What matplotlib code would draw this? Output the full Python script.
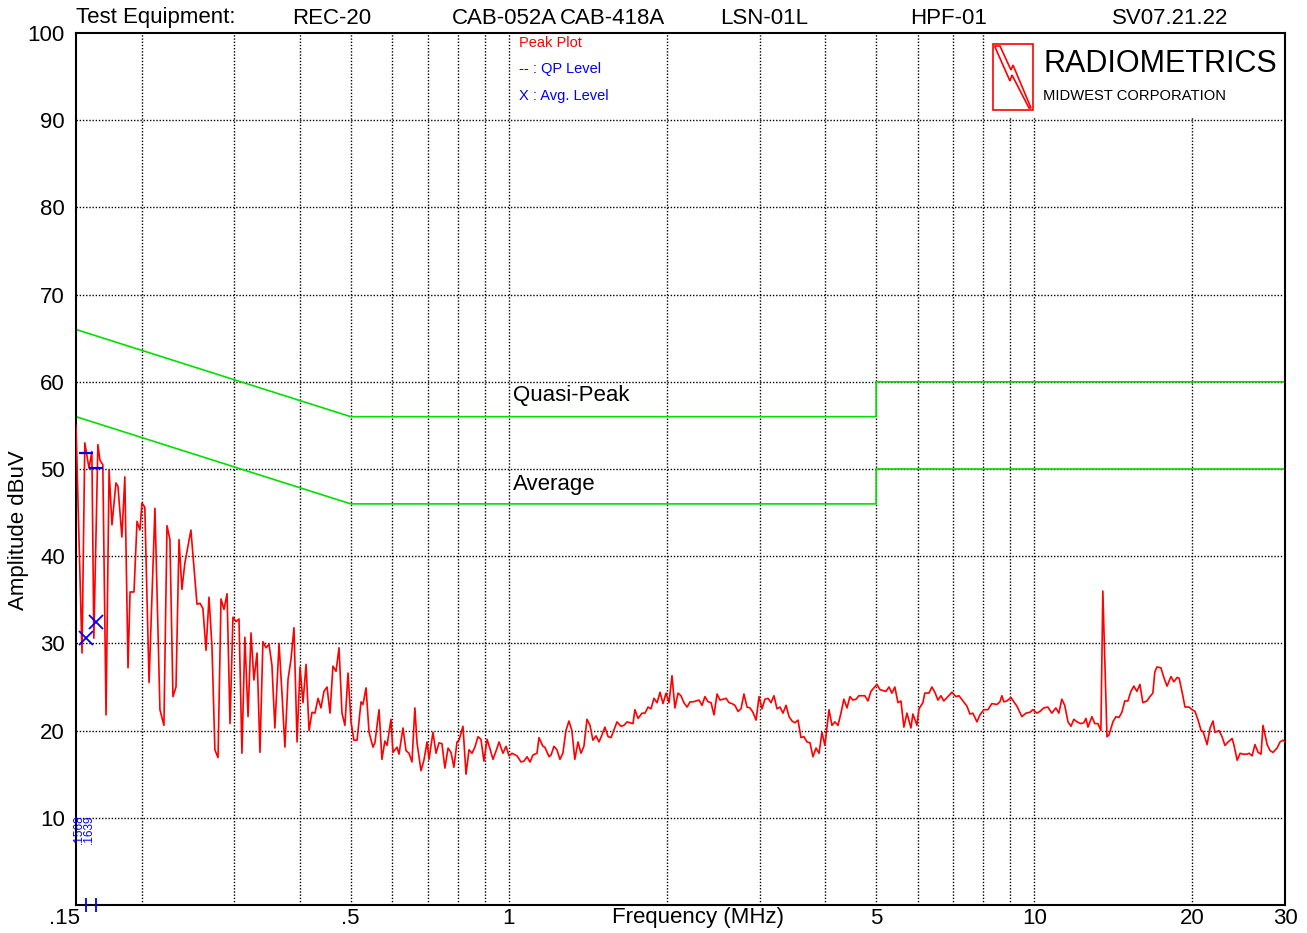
import matplotlib
matplotlib.use("Agg")
import matplotlib.pyplot as plt
from matplotlib.patches import Rectangle, Polygon
from matplotlib.transforms import ScaledTranslation

plt.rcParams['font.family'] = ['Liberation Sans', 'DejaVu Sans']

# peak scan (MHz, dBuV)
freq_mhz = [
    0.1500, 0.1540, 0.1559, 0.1588, 0.1608, 0.1622, 0.1651, 0.1666, 0.1687, 0.1711,
    0.1734, 0.1756, 0.1787, 0.1803, 0.1834, 0.1858, 0.1884, 0.1901, 0.1934, 0.1960,
    0.1985, 0.2003, 0.2028, 0.2066, 0.2120, 0.2167, 0.2205, 0.2235, 0.2264, 0.2294,
    0.2325, 0.2356, 0.2386, 0.2417, 0.2482, 0.2549, 0.2583, 0.2616, 0.2652, 0.2687,
    0.2722, 0.2757, 0.2795, 0.2832, 0.2869, 0.2908, 0.2946, 0.2984, 0.3024, 0.3064,
    0.3104, 0.3144, 0.3188, 0.3230, 0.3271, 0.3316, 0.3359, 0.3403, 0.3449, 0.3495,
    0.3540, 0.3586, 0.3652, 0.3699, 0.3747, 0.3799, 0.3849, 0.3899, 0.3952, 0.4004,
    0.4056, 0.4111, 0.4165, 0.4220, 0.4274, 0.4333, 0.4389, 0.4446, 0.4507, 0.4566,
    0.4625, 0.4688, 0.4750, 0.4812, 0.4874, 0.4941, 0.5006, 0.5070, 0.5141, 0.5231,
    0.5276, 0.5347, 0.5418, 0.5512, 0.5559, 0.5660, 0.5733, 0.5807, 0.5863, 0.5965,
    0.6017, 0.6125, 0.6178, 0.6286, 0.6371, 0.6455, 0.6539, 0.6623, 0.6686, 0.6803,
    0.6891, 0.6986, 0.7047, 0.7169, 0.7266, 0.7362, 0.7458, 0.7554, 0.7659, 0.7759,
    0.7859, 0.7967, 0.8037, 0.8176, 0.8287, 0.8396, 0.8506, 0.8615, 0.8734, 0.8848,
    0.8963, 0.9088, 0.9207, 0.9327, 0.9495, 0.9578, 0.9744, 0.9876, 1.0006, 1.0137,
    1.0365, 1.0547, 1.0683, 1.0827, 1.0970, 1.1112, 1.1310, 1.1409, 1.1607, 1.1706,
    1.1925, 1.2029, 1.2184, 1.2344, 1.2506, 1.2669, 1.284, 1.3009, 1.3179, 1.3348,
    1.3538, 1.3715, 1.3892, 1.4082, 1.4267, 1.4452, 1.465, 1.4843, 1.5037, 1.5230,
    1.5445, 1.5647, 1.5849, 1.6060, 1.6342, 1.6553, 1.6784, 1.7004, 1.7225, 1.7372,
    1.7614, 1.7921, 1.8152, 1.8401, 1.8641, 1.8882, 1.9144, 1.9395, 1.9647, 1.991,
    2.0173, 2.0436, 2.0698, 2.0983, 2.1258, 2.1532, 2.1836, 2.2123, 2.2410, 2.271,
    2.3010, 2.3310, 2.3609, 2.3939, 2.4252, 2.4565, 2.4899, 2.5226, 2.5554, 2.590,
    2.6242, 2.6584, 2.6926, 2.7298, 2.7655, 2.8013, 2.8394, 2.8768, 2.9141, 2.954,
    2.9930, 3.0320, 3.0710, 3.1132, 3.1539, 3.1946, 3.2382, 3.2807, 3.3233, 3.369,
    3.4135, 3.4579, 3.5024, 3.5500, 3.5964, 3.6429, 3.6932, 3.7417, 3.7903, 3.842,
    3.8927, 3.9434, 3.9941, 4.0670, 4.1200, 4.1730, 4.2299, 4.2852, 4.3406, 4.4003,
    4.4581, 4.5159, 4.577, 4.6374, 4.6978, 4.7583, 4.8241, 4.8872, 4.9503, 5.0180,
    5.0839, 5.1499, 5.220, 5.2889, 5.3578, 5.4267, 5.5020, 5.5740, 5.6460, 5.7231,
    5.8234, 5.8735, 5.9792, 6.0316, 6.1364, 6.1887, 6.3021, 6.3842, 6.4663, 6.5552,
    6.6410, 6.7267, 6.8487, 6.9682, 7.094, 7.1876, 7.3125, 7.4436, 7.5414, 7.6393,
    7.7771, 7.8793, 8.0155, 8.1612, 8.3036, 8.4892, 8.6008, 8.6751, 8.7495, 8.8699,
    9.0253, 9.1418, 9.2666, 9.4696, 9.640, 9.8097, 9.9369, 10.114, 10.247, 10.424,
    10.613, 10.798, 10.99, 11.135, 11.280, 11.425, 11.591, 11.743, 11.894, 12.053,
    12.264, 12.422, 12.54, 12.650, 12.871, 13.037, 13.215, 13.388, 13.503, 13.750,
    13.871, 14.112, 14.30, 14.489, 14.678, 14.866, 15.071, 15.269, 15.466, 15.679,
    15.885, 16.091, 16.382, 16.597, 16.812, 16.956, 17.115, 17.415, 17.640, 17.888,
    18.202, 18.437, 18.702, 18.866, 19.112, 19.357, 19.707, 19.963, 20.220, 20.499,
    20.767, 20.946, 21.323, 21.604, 21.884, 22.071, 22.473, 22.766, 23.058, 23.384,
    23.792, 23.996, 24.327, 24.646, 24.966, 25.411, 25.634, 25.968, 26.302, 26.663,
    27.011, 27.244, 27.742, 28.106, 28.471, 28.977, 29.358, 29.739, 30.0]

peak_dbuv = [
    55.0, 28.9, 53.0, 50.1, 52.0, 30.6, 52.8, 51.0, 50.5, 21.8,
    49.9, 43.6, 48.4, 48.0, 42.2, 49.1, 27.2, 35.9, 35.9, 44.0,
    43.0, 46.1, 45.6, 25.5, 45.5, 22.4, 20.6, 43.5, 41.9, 23.9,
    25.0, 41.9, 36.2, 39.2, 43.0, 34.5, 34.6, 34.0, 29.2, 35.3,
    29.6, 17.8, 16.9, 35.1, 33.9, 35.7, 20.8, 33.0, 32.5, 32.8,
    17.4, 30.7, 21.6, 31.2, 25.8, 28.9, 17.5, 30.2, 29.5, 29.9,
    27.5, 20.3, 30.0, 24.3, 18.1, 25.9, 28.2, 31.8, 18.7, 27.3,
    23.2, 27.6, 20.0, 22.1, 22.0, 23.7, 22.6, 24.5, 25.0, 22.0,
    27.4, 26.8, 29.5, 22.0, 20.6, 26.6, 21.0, 18.9, 18.9, 23.3,
    23.0, 24.9, 19.8, 18.1, 18.6, 22.4, 16.7, 18.8, 18.3, 21.3,
    17.5, 18.1, 17.3, 20.3, 17.7, 17.4, 16.4, 22.6, 18.6, 15.4,
    16.6, 18.7, 16.7, 19.8, 17.4, 18.6, 18.5, 15.7, 18.0, 17.5,
    15.8, 18.7, 18.9, 20.5, 15.0, 17.8, 17.4, 18.1, 19.3, 19.0,
    16.5, 19.0, 17.9, 16.7, 18.0, 18.7, 17.4, 18.2, 17.1, 17.4,
    17.1, 16.4, 16.5, 17.0, 16.4, 17.2, 17.4, 19.2, 18.2, 18.1,
    17.0, 17.2, 18.2, 17.8, 16.7, 17.4, 20.0, 21.1, 20.0, 16.7,
    18.7, 17.4, 18.2, 21.3, 20.6, 18.9, 19.4, 18.7, 19.5, 20.4,
    19.3, 19.2, 20.1, 21.0, 20.5, 20.6, 21.0, 20.9, 20.8, 22.4,
    21.4, 22.0, 22.0, 22.7, 22.5, 23.7, 23.2, 24.4, 23.1, 24.3,
    23.2, 26.3, 22.6, 24.3, 24.0, 23.2, 22.7, 23.3, 23.3, 23.4,
    23.5, 22.9, 23.9, 23.3, 23.2, 21.8, 24.2, 23.5, 23.6, 23.7,
    23.2, 23.1, 22.9, 22.2, 22.5, 24.2, 22.7, 22.6, 22.1, 21.2,
    23.9, 22.5, 23.6, 23.7, 23.2, 24.0, 22.5, 22.7, 22.0, 22.9,
    21.6, 21.1, 20.9, 21.2, 19.2, 19.3, 18.7, 18.6, 17.0, 18.0,
    17.4, 19.8, 18.3, 22.4, 20.6, 21.0, 20.6, 22.0, 23.6, 22.6,
    23.9, 23.5, 23.6, 24.0, 24.0, 24.0, 23.4, 24.5, 24.9, 25.3,
    24.7, 24.6, 24.5, 25.0, 24.3, 25.0, 23.2, 23.4, 20.4, 22.0,
    20.3, 21.9, 20.6, 22.5, 23.2, 24.3, 24.3, 25.0, 24.4, 23.5,
    24.0, 23.4, 23.9, 24.4, 23.9, 24.0, 23.4, 22.8, 21.9, 22.0,
    21.0, 21.8, 22.4, 22.4, 23.1, 23.0, 23.3, 24.0, 23.3, 23.4,
    23.8, 23.3, 22.8, 21.6, 22.0, 22.1, 22.4, 22.0, 22.2, 22.6,
    22.7, 22.0, 22.6, 22.0, 23.6, 22.9, 21.0, 20.5, 21.3, 21.0,
    20.8, 20.9, 21.4, 20.4, 21.6, 20.8, 20.8, 20.0, 36.0, 19.3,
    19.5, 21.0, 21.6, 21.5, 22.1, 23.4, 23.4, 24.5, 25.1, 24.5,
    25.3, 23.2, 23.4, 23.9, 24.3, 26.7, 27.3, 27.2, 26.1, 25.1,
    26.2, 25.6, 26.1, 26.0, 24.4, 22.7, 22.7, 22.4, 22.2, 21.2,
    20.0, 19.9, 18.4, 20.3, 21.1, 19.8, 20.0, 19.3, 18.3, 18.7,
    19.1, 18.3, 16.6, 17.4, 17.3, 17.3, 17.4, 17.1, 18.4, 17.5,
    17.3, 20.6, 18.4, 17.7, 17.5, 18.0, 18.7, 18.9, 18.7]

# limit lines
limit_freq = [0.15, 0.5, 5, 5, 30]
qp_limit = [66, 56, 56, 60, 60]
avg_limit = [56, 46, 46, 50, 50]

# measured QP / average points
marker_freq = [0.1568, 0.1639]
marker_labels = ['.1568', '.1639']
qp_level = [51.8, 50.1]
avg_level = [30.6, 32.4]

header = ['Test Equipment:', 'REC-20', 'CAB-052A', 'CAB-418A', 'LSN-01L', 'HPF-01', 'SV07.21.22']
header_px = [76, 292, 452, 560, 720, 910, 1112]

grid_freqs = [0.2, 0.3, 0.4, 0.5, 0.6, 0.7, 0.8, 0.9, 1, 2, 3, 4, 5, 6, 7, 8, 9, 10, 20]
xtick_vals = [0.15, 0.5, 1, 5, 10, 20, 30]
xtick_text = ['.15', '.5', '1', '5', '10', '20', '30']

W, H = 1307, 933
L, R, T, B = 76, 1285, 33, 905
FS = 16
RED = '#ff0000'
GREEN = '#00e000'
BLUE = '#0000ff'


def axfrac(px, py):
    return ((px - L) / (R - L), (B - py) / (B - T))


fig = plt.figure(figsize=(W / 100, H / 100), dpi=100)
ax = fig.add_axes([L / W, 1 - B / H, (R - L) / W, (B - T) / H])
ax.set_xscale('log')
ax.set_xlim(0.15, 30)
ax.set_ylim(0, 100)

# grid
for f in grid_freqs:
    ax.axvline(f, color='black', lw=1.0, ls=(0, (1, 1.3)), zorder=0.5)
for y in range(10, 100, 10):
    ax.axhline(y, color='black', lw=1.0, ls=(0, (1, 1.3)), zorder=0.5)

ax.set_xticks(xtick_vals)
ax.set_xticklabels(xtick_text)
ax.xaxis.set_minor_locator(matplotlib.ticker.NullLocator())
ax.set_yticks(range(10, 101, 10))
ax.tick_params(length=0, labelsize=FS)
ax.tick_params(axis='y', pad=8)
ax.tick_params(axis='x', pad=2)
first = ax.get_xticklabels()[0]
first.set_ha('right')
first.set_transform(first.get_transform() + ScaledTranslation(0.04, 0, fig.dpi_scale_trans))
for s in ax.spines.values():
    s.set_linewidth(1.5)
    s.set_color('black')

# limits
ax.plot(limit_freq, qp_limit, color=GREEN, lw=1.2, zorder=2)
ax.plot(limit_freq, avg_limit, color=GREEN, lw=1.2, zorder=2)
ax.text(1.018, 58.4, 'Quasi-Peak', fontsize=FS, va='center', ha='left')
ax.text(1.018, 48.2, 'Average', fontsize=FS, va='center', ha='left')

# peak trace
ax.plot(freq_mhz, peak_dbuv, color=RED, lw=1.2, zorder=3)

# markers
ax.plot(marker_freq, qp_level, ls='none', marker='_', ms=9.5, mew=1.6, color=BLUE, zorder=4)
ax.plot(marker_freq, avg_level, ls='none', marker='x', ms=9.5, mew=1.3, color=BLUE, zorder=4)
ax.plot(marker_freq, [0, 0], ls='none', marker='|', ms=10, mew=1.3, color=BLUE,
        zorder=5, clip_on=False)
for f, lab in zip(marker_freq, marker_labels):
    ax.text(f * 0.995, 7.0, lab, rotation=90, fontsize=8.5, color=BLUE,
            ha='right', va='bottom')

# legend text
lx = axfrac(519, 0)[0]
ax.text(lx, axfrac(0, 43)[1], 'Peak Plot', transform=ax.transAxes, fontsize=10.5, color=RED, va='center')
ax.text(lx, axfrac(0, 69)[1], '-- : QP Level', transform=ax.transAxes, fontsize=10.5, color=BLUE, va='center')
ax.text(lx, axfrac(0, 96)[1], 'X : Avg. Level', transform=ax.transAxes, fontsize=10.5, color=BLUE, va='center')

# logo block
x0, y0 = axfrac(986, 118)
ax.add_patch(Rectangle((x0, y0), 1 - x0, 1 - y0, transform=ax.transAxes,
                       facecolor='white', edgecolor='none', zorder=1))
rx0, ry0 = axfrac(993, 110)
rx1, ry1 = axfrac(1033, 44)
ax.add_patch(Rectangle((rx0, ry0), rx1 - rx0, ry1 - ry0, transform=ax.transAxes,
                       facecolor='none', edgecolor=RED, lw=1.2, zorder=6))
bolt_px = [(995, 46), (1000, 46), (1011, 70), (1013, 65), (1031, 108),
           (1029, 108), (1012, 75), (1010, 81), (995, 47)]
ax.add_patch(Polygon([axfrac(x, y) for x, y in bolt_px], closed=True, transform=ax.transAxes,
                     facecolor='none', edgecolor=RED, lw=1.2, zorder=6))
ax.text(axfrac(1043, 0)[0], axfrac(0, 64)[1], 'RADIOMETRICS', transform=ax.transAxes,
        fontsize=22, va='center', ha='left', zorder=7)
ax.text(axfrac(1043, 0)[0], axfrac(0, 96)[1], 'MIDWEST CORPORATION', transform=ax.transAxes,
        fontsize=10.6, va='center', ha='left', zorder=7)

# header and axis titles
for txt, px in zip(header, header_px):
    fig.text(px / W, 1 - 18 / H, txt, fontsize=FS, va='center', ha='left')
fig.text(698 / W, 1 - 918 / H, 'Frequency (MHz)', fontsize=FS, va='center', ha='center')
fig.text(19 / W, 1 - 530 / H, 'Amplitude dBuV', fontsize=FS, va='center', ha='center', rotation=90)

fig.savefig('out.png', dpi=100)
